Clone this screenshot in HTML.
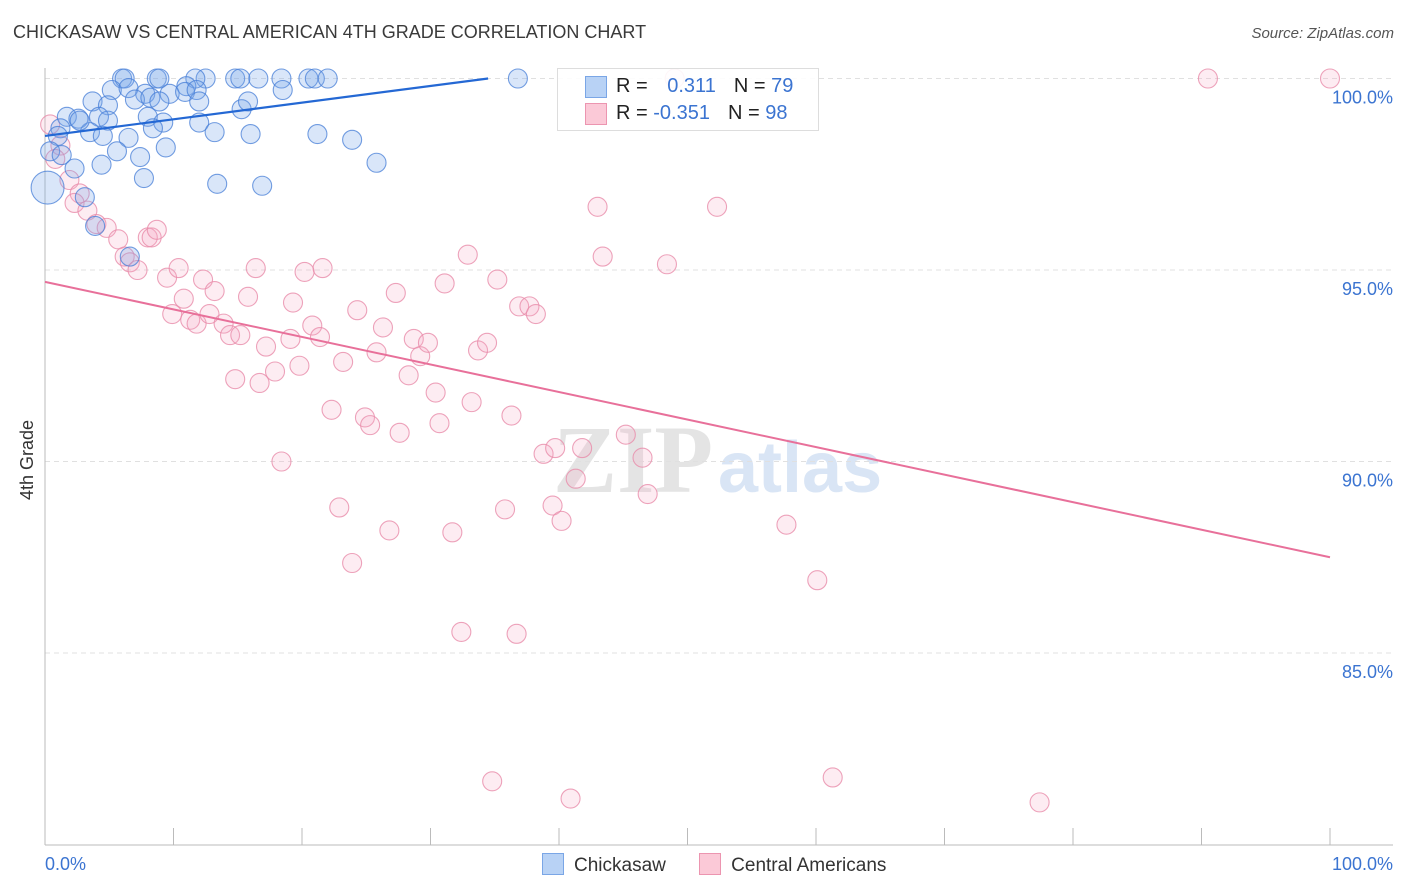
<!DOCTYPE html>
<html><head><meta charset="utf-8">
<style>
body{margin:0;background:#fff;font-family:"Liberation Sans",sans-serif;}
#wrap{position:relative;width:1406px;height:892px;overflow:hidden;}
.t{position:absolute;white-space:nowrap;}
</style></head>
<body>
<div id="wrap">
<div class="t" style="left:13px;top:22px;font-size:18px;color:#3a3a3a;">CHICKASAW VS CENTRAL AMERICAN 4TH GRADE CORRELATION CHART</div>
<div class="t" style="right:12px;top:25px;font-size:15px;color:#555;font-style:italic;">Source: ZipAtlas.com</div>
<div class="t" style="left:17px;top:500px;font-size:18px;color:#333;transform:rotate(-90deg);transform-origin:left top;">4th Grade</div>
<svg id="plot" width="1406" height="892" style="position:absolute;left:0;top:0"></svg>
<div style="position:absolute;left:557px;top:68px;width:260px;height:61px;border:1px solid #ddd;background:rgba(255,255,255,0.9);font-size:20px;">
  <div style="position:absolute;left:27px;top:7px;width:20px;height:20px;background:#b8d2f5;border:1px solid #7aa6e6;"></div>
  <div class="t" style="left:58px;top:6px;color:#222;">R = <span style="color:#3b74d1;margin-left:14px">0.311</span><span style="color:#222;margin-left:18px">N = </span><span style="color:#3b74d1">79</span></div>
  <div style="position:absolute;left:27px;top:34px;width:20px;height:20px;background:#fbc9d7;border:1px solid #ec95b0;"></div>
  <div class="t" style="left:58px;top:33px;color:#222;">R = <span style="color:#3b74d1">-0.351</span><span style="color:#222;margin-left:18px">N = </span><span style="color:#3b74d1">98</span></div>
</div>
<div style="position:absolute;left:542px;top:853px;font-size:19px;color:#333;">
  <span style="display:inline-block;width:20px;height:20px;background:#b8d2f5;border:1px solid #7aa6e6;vertical-align:-4px;"></span><span style="margin-left:10px">Chickasaw</span>
  <span style="display:inline-block;width:20px;height:20px;background:#fbc9d7;border:1px solid #ec95b0;vertical-align:-4px;margin-left:28px;"></span><span style="margin-left:10px">Central Americans</span>
</div>
</div>
<script>
const blueX=[6.0,6.2,8.7,8.9,12.5,14.8,15.2,16.6,18.4,20.5,21.0,22.0,36.8,11.7,11.0,5.2,6.5,7.8,9.7,10.9,11.8,3.7,4.9,7.0,8.2,8.9,12.0,15.3,15.8,18.5,1.7,2.6,4.2,8.0,9.2,12.0,1.2,3.5,1.0,4.5,6.5,8.4,13.2,16.0,21.2,23.9,0.4,1.3,5.6,7.4,9.4,25.8,2.3,4.4,7.7,13.4,16.9,3.1,0.2,3.9,6.6,4.9,2.7];
const blueY=[100,100,100,100,100,100,100,100,100,100,100,100,100,100,99.8,99.7,99.75,99.6,99.6,99.65,99.7,99.4,99.3,99.45,99.5,99.4,99.4,99.2,99.4,99.7,99.0,98.95,99.0,99.0,98.85,98.85,98.7,98.6,98.5,98.5,98.45,98.7,98.6,98.55,98.55,98.4,98.1,98.0,98.1,97.95,98.2,97.8,97.65,97.75,97.4,97.25,97.2,96.9,97.15,96.15,95.35,98.9,98.9];
const blueWeight=[1,1,1,1,1,1,1,1,1,1,1,1,1,1,1,1,1,1,1,1,1,1,1,1,1,1,1,1,1,1,1,1,1,1,1,1,1,1,1,1,1,1,1,1,1,1,1,1,1,1,1,1,1,1,1,1,1,1,3,1,1,1,1];
const pinkX=[90.5,100,49.0,0.4,1.2,0.8,1.9,2.7,2.3,3.3,4.0,4.8,5.7,6.2,6.6,7.2,8.0,8.3,8.7,9.5,10.4,10.8,9.9,11.3,11.8,12.3,12.8,13.2,13.9,14.4,15.2,14.8,15.8,16.4,16.7,17.2,17.9,19.1,19.3,19.8,20.2,20.8,21.4,21.6,18.4,22.3,23.2,24.3,24.9,25.3,25.8,26.3,27.3,27.6,28.3,28.7,29.2,29.8,30.4,30.7,31.1,32.9,33.2,33.7,34.4,35.2,36.3,36.9,37.7,38.2,22.9,23.9,26.8,31.7,35.8,38.8,39.7,39.5,40.2,41.3,41.8,43.0,43.4,45.2,46.5,46.9,48.4,52.3,57.7,60.1,32.4,36.7,34.8,40.9,61.3,77.4];
const pinkY=[100,100,100,98.8,98.25,97.9,97.35,97.0,96.75,96.55,96.2,96.1,95.8,95.35,95.2,95.0,95.85,95.85,96.05,94.8,95.05,94.25,93.85,93.7,93.6,94.75,93.85,94.45,93.6,93.3,93.3,92.15,94.3,95.05,92.05,93.0,92.35,93.2,94.15,92.5,94.95,93.55,93.25,95.05,90.0,91.35,92.6,93.95,91.15,90.95,92.85,93.5,94.4,90.75,92.25,93.2,92.75,93.1,91.8,91.0,94.65,95.4,91.55,92.9,93.1,94.75,91.2,94.05,94.05,93.85,88.8,87.35,88.2,88.15,88.75,90.2,90.35,88.85,88.45,89.55,90.35,96.65,95.35,90.7,90.1,89.15,95.15,96.65,88.35,86.9,85.55,85.5,81.65,81.2,81.75,81.1];
const blueLine=[98.5,0.0435];   // intercept, slope
const pinkLine=[94.69,-0.0719];
const yTicks=[100,95,90,85];
const yTickLabels=["100.0%","95.0%","90.0%","85.0%"];

const NS="http://www.w3.org/2000/svg";
const svg=document.getElementById('plot');
const X=v=>45+v*12.85;
const Y=v=>78.5+(100-v)*38.3;
function mk(t,a){const e=document.createElementNS(NS,t);for(const k in a)e.setAttribute(k,a[k]);svg.appendChild(e);return e;}
let wm=mk('text',{x:553,y:492,'font-size':96,'font-family':'Liberation Serif,serif',fill:'#e4e4e4','font-weight':'bold'});wm.textContent='ZIP';


let wm2=mk('text',{x:718,y:492,'font-size':72,'font-family':'Liberation Sans,sans-serif',fill:'#d9e5f5','font-weight':'bold'});wm2.textContent='atlas';


yTicks.forEach((t,i)=>{
  const g=mk('line',{x1:45,x2:1393,y1:Y(t),y2:Y(t),stroke:'#e0e0e0','stroke-dasharray':'5,4'});
  
  
  const l=mk('text',{x:1393,y:Y(t)+25,'text-anchor':'end','font-size':18,fill:'#3b74d1','font-family':'Liberation Sans,sans-serif'});
  l.textContent=yTickLabels[i];
  
  
});
mk('line',{x1:45,x2:45,y1:68,y2:845,stroke:'#bbb'});
mk('line',{x1:45,x2:1393,y1:845,y2:845,stroke:'#bbb'});
for(let k=0;k<=10;k++){const tk=mk('line',{x1:X(k*10),x2:X(k*10),y1:828,y2:845,stroke:'#bbb'});
  
  }
let xl=mk('text',{x:45,y:870,'font-size':18,fill:'#3b74d1','font-family':'Liberation Sans,sans-serif'});xl.textContent='0.0%';


let xr=mk('text',{x:1393,y:870,'text-anchor':'end','font-size':18,fill:'#3b74d1','font-family':'Liberation Sans,sans-serif'});xr.textContent='100.0%';


pinkX.forEach((x,i)=>{const c=mk('circle',{cx:X(x),cy:Y(pinkY[i]),r:9.5,fill:'rgba(246,170,195,0.22)',stroke:'rgba(232,140,170,0.8)','stroke-width':1.1});
  
  });
blueX.forEach((x,i)=>{const c=mk('circle',{cx:X(x),cy:Y(blueY[i]),r:9.5*Math.sqrt(blueWeight[i]),fill:'rgba(120,165,235,0.28)',stroke:'rgba(70,125,215,0.75)','stroke-width':1.1});
  
  });
const bxEnd=(100-blueLine[0])/blueLine[1];
const bl=mk('line',{x1:X(0),y1:Y(blueLine[0]),x2:X(bxEnd),y2:Y(100),stroke:'#2468d4','stroke-width':2.2});


const pl=mk('line',{x1:X(0),y1:Y(pinkLine[0]),x2:X(100),y2:Y(pinkLine[0]+pinkLine[1]*100),stroke:'#e8709a','stroke-width':2});


</script>
</body></html>
